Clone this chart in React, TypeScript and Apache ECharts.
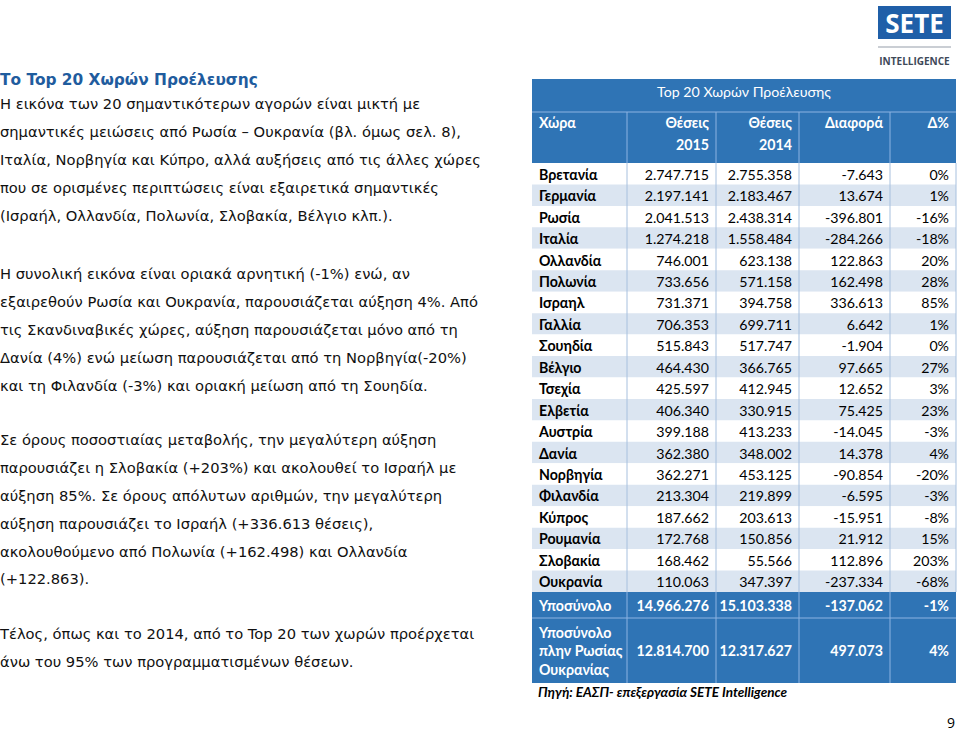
import React, { useEffect, useRef } from "react";
import * as echarts from "echarts";

const countries = ["Βρετανία", "Γερμανία", "Ρωσία", "Ιταλία", "Ολλανδία", "Πολωνία", "Ισραηλ", "Γαλλία", "Σουηδία", "Βέλγιο", "Τσεχία", "Ελβετία", "Αυστρία", "Δανία", "Νορβηγία", "Φιλανδία", "Κύπρος", "Ρουμανία", "Σλοβακία", "Ουκρανία"];
const seats2015 = [2747715, 2197141, 2041513, 1274218, 746001, 733656, 731371, 706353, 515843, 464430, 425597, 406340, 399188, 362380, 362271, 213304, 187662, 172768, 168462, 110063];
const seats2014 = [2755358, 2183467, 2438314, 1558484, 623138, 571158, 394758, 699711, 517747, 366765, 412945, 330915, 413233, 348002, 453125, 219899, 203613, 150856, 55566, 347397];
const diffs = [-7643, 13674, -396801, -284266, 122863, 162498, 336613, 6642, -1904, 97665, 12652, 75425, -14045, 14378, -90854, -6595, -15951, 21912, 112896, -237334];
const pcts = [0, 1, -16, -18, 20, 28, 85, 1, 0, 27, 3, 23, -3, 4, -20, -3, -8, 15, 203, -68];
const totalLabels = ["Υποσύνολο", "Υποσύνολο\nπλην Ρωσίας\nΟυκρανίας"];
const total2015 = [14966276, 12814700];
const total2014 = [15103338, 12317627];
const totalDiff = [-137062, 497073];
const totalPct = [-1, 4];
const headers = ["Χώρα", "Θέσεις\n2015", "Θέσεις\n2014", "Διαφορά", "Δ%"];
const tableTitle = "Top 20 Χωρών Προέλευσης";
const sourceNote = "Πηγή: ΕΑΣΠ- επεξεργασία SETE Intelligence";

const leftTitle = "Το Top 20 Χωρών Προέλευσης";
const leftLines: [number, string][] = [
  [103, "Η εικόνα των 20 σημαντικότερων αγορών είναι μικτή με"],
  [131, "σημαντικές μειώσεις από Ρωσία – Ουκρανία (βλ. όμως σελ. 8),"],
  [159, "Ιταλία, Νορβηγία και Κύπρο, αλλά αυξήσεις από τις άλλες χώρες"],
  [187, "που σε ορισμένες περιπτώσεις είναι εξαιρετικά σημαντικές"],
  [215, "(Ισραήλ, Ολλανδία, Πολωνία, Σλοβακία, Βέλγιο κλπ.)."],
  [273, "Η συνολική εικόνα είναι οριακά αρνητική (-1%) ενώ, αν"],
  [301, "εξαιρεθούν Ρωσία και Ουκρανία, παρουσιάζεται αύξηση 4%. Από"],
  [329, "τις Σκανδιναβικές χώρες, αύξηση παρουσιάζεται μόνο από τη"],
  [357, "Δανία (4%) ενώ μείωση παρουσιάζεται από τη Νορβηγία(-20%)"],
  [385, "και τη Φιλανδία (-3%) και οριακή μείωση από τη Σουηδία."],
  [439, "Σε όρους ποσοστιαίας μεταβολής, την μεγαλύτερη αύξηση"],
  [467, "παρουσιάζει η Σλοβακία (+203%) και ακολουθεί το Ισραήλ με"],
  [495, "αύξηση 85%. Σε όρους απόλυτων αριθμών, την μεγαλύτερη"],
  [523, "αύξηση παρουσιάζει το Ισραήλ (+336.613 θέσεις),"],
  [551, "ακολουθούμενο από Πολωνία (+162.498) και Ολλανδία"],
  [578, "(+122.863)."],
  [633, "Τέλος, όπως και το 2014, από το Top 20 των χωρών προέρχεται"],
  [661, "άνω του 95% των προγραμματισμένων θέσεων."],
];

function fmt(n: number): string {
  const s = Math.abs(n).toString().replace(/\B(?=(\d{3})+(?!\d))/g, ".");
  return (n < 0 ? "-" : "") + s;
}

const BLUE = "#2f74b5";
const LIGHT = "#dbe5f1";
const TFONT = "Lato, 'Open Sans', sans-serif";
const BFONT = "'DejaVu Sans', Verdana, sans-serif";
const TS = 14.2;

function txt(x: number, y: number, text: string, opts: any = {}) {
  return {
    type: "text",
    x,
    y,
    silent: true,
    style: {
      text,
      fill: opts.fill || "#000",
      fontSize: opts.size || TS,
      fontFamily: opts.family || TFONT,
      fontWeight: opts.weight || "normal",
      fontStyle: opts.style || "normal",
      align: opts.align || "left",
      verticalAlign: opts.va || "middle",
      textAlign: opts.align || "left",
      textVerticalAlign: opts.va || "middle",
    },
  };
}

function buildGraphics() {
  const els: any[] = [];
  const cols = [532, 627, 716, 799, 890, 956];
  const pad = 7;
  const top = 79;
  const titleBottom = 112;
  const headBottom = 163;
  const dataBottom = 592;
  const rowH = (dataBottom - headBottom) / countries.length;
  const subBottom = 618;
  const tableBottom = 683;

  // Left text
  els.push(txt(0, 80, leftTitle, { family: BFONT, size: 15.4, weight: "bold", fill: "#1f5c9e" }));
  leftLines.forEach(([y, t]) => els.push(txt(0, y, t, { family: BFONT, size: 14.7, fill: "#111" })));

  // Header background
  els.push({ type: "rect", shape: { x: cols[0], y: top, width: cols[5] - cols[0], height: headBottom - top }, style: { fill: BLUE }, silent: true });
  els.push({ type: "line", shape: { x1: cols[0], y1: titleBottom, x2: cols[5], y2: titleBottom }, style: { stroke: "#8db3e2", lineWidth: 1 }, silent: true });
  for (let c = 1; c < 5; c++) {
    els.push({ type: "line", shape: { x1: cols[c], y1: titleBottom, x2: cols[c], y2: headBottom }, style: { stroke: "#8db3e2", lineWidth: 1 }, silent: true });
  }
  els.push(txt((cols[0] + cols[5]) / 2, 91, tableTitle, { fill: "#fff", size: 14.2, align: "center" }));
  headers.forEach((h, c) => {
    const parts = h.split("\n");
    parts.forEach((p, k) => {
      const y = 122 + k * 22;
      if (c === 0) els.push(txt(cols[0] + pad, y, p, { fill: "#fff", weight: "bold" }));
      else els.push(txt(cols[c + 1] - pad, y, p, { fill: "#fff", weight: "bold", align: "right" }));
    });
  });

  // Data rows
  countries.forEach((name, i) => {
    const y0 = headBottom + i * rowH;
    const cy = y0 + rowH / 2 + 0.5;
    els.push({ type: "rect", shape: { x: cols[0], y: y0, width: cols[5] - cols[0], height: rowH }, style: { fill: i % 2 === 1 ? LIGHT : "#fff" }, silent: true });
    els.push(txt(cols[0] + pad, cy, name, { weight: "bold" }));
    els.push(txt(cols[2] - pad, cy, fmt(seats2015[i]), { align: "right" }));
    els.push(txt(cols[3] - pad, cy, fmt(seats2014[i]), { align: "right" }));
    els.push(txt(cols[4] - pad, cy, fmt(diffs[i]), { align: "right" }));
    els.push(txt(cols[5] - pad, cy, pcts[i] + "%", { align: "right" }));
  });
  for (let c = 1; c < 6; c++) {
    els.push({ type: "line", shape: { x1: cols[c], y1: headBottom, x2: cols[c], y2: dataBottom }, style: { stroke: "#a7c0de", lineWidth: 1 }, silent: true });
  }

  // Totals
  els.push({ type: "rect", shape: { x: cols[0], y: dataBottom, width: cols[5] - cols[0], height: tableBottom - dataBottom }, style: { fill: BLUE }, silent: true });
  els.push({ type: "line", shape: { x1: cols[0], y1: subBottom, x2: cols[5], y2: subBottom }, style: { stroke: "#8db3e2", lineWidth: 1 }, silent: true });
  for (let c = 1; c < 5; c++) {
    els.push({ type: "line", shape: { x1: cols[c], y1: dataBottom, x2: cols[c], y2: tableBottom }, style: { stroke: "#8db3e2", lineWidth: 1 }, silent: true });
  }
  const totCy = [(dataBottom + subBottom) / 2, (subBottom + tableBottom) / 2];
  totalLabels.forEach((lab, r) => {
    const parts = lab.split("\n");
    const lh = 18.5;
    parts.forEach((p, k) => {
      const y = totCy[r] + (k - (parts.length - 1) / 2) * lh;
      els.push(txt(cols[0] + pad, y, p, { fill: "#fff", weight: "bold" }));
    });
    const o = { fill: "#fff", weight: "bold", align: "right" };
    els.push(txt(cols[2] - pad, totCy[r], fmt(total2015[r]), o));
    els.push(txt(cols[3] - pad, totCy[r], fmt(total2014[r]), o));
    els.push(txt(cols[4] - pad, totCy[r], fmt(totalDiff[r]), o));
    els.push(txt(cols[5] - pad, totCy[r], totalPct[r] + "%", o));
  });

  els.push(txt(538, 692, sourceNote, { weight: "bold", style: "italic", size: 13.5 }));

  // Logo
  els.push({ type: "rect", shape: { x: 878, y: 6, width: 73, height: 33 }, style: { fill: "#1f5fa8" }, silent: true });
  els.push(txt(914.5, 23, "SETE", { fill: "#fff", weight: "bold", size: 26, family: "'Open Sans', sans-serif", align: "center" }));
  els.push({ type: "line", shape: { x1: 878, y1: 47, x2: 951, y2: 47 }, style: { stroke: "#b9bec6", lineWidth: 1.5 }, silent: true });
  els.push(txt(914.5, 61, "INTELLIGENCE", { fill: "#3e4958", weight: "bold", size: 10, family: "'Open Sans', sans-serif", align: "center" }));

  // Page number
  els.push(txt(955, 722, "9", { size: 14, family: "'Open Sans', sans-serif", align: "right" }));

  return els;
}

export default function App() {
  const ref = useRef<HTMLDivElement>(null);
  useEffect(() => {
    if (!ref.current) return;
    const chart = echarts.init(ref.current, null, { renderer: "svg" });
    chart.setOption({
      animation: false,
      backgroundColor: "#fff",
      graphic: { elements: buildGraphics() },
    });
    return () => chart.dispose();
  }, []);
  return (
    <div
      ref={ref}
      style={{ position: "fixed", left: 0, top: 0, width: 960, height: 732, background: "#fff" }}
    />
  );
}
